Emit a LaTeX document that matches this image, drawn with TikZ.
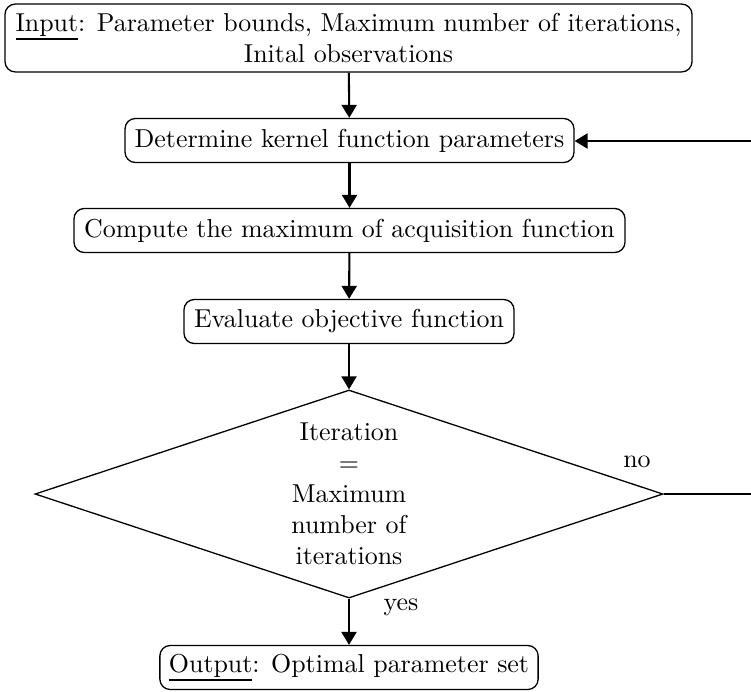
\documentclass[tikz,border=0pt]{standalone}
\usetikzlibrary{shapes.geometric,arrows.meta}
\newcommand\thickul[1]{\setbox0\hbox{#1}\rlap{\rule[-3.2pt]{\wd0}{0.75pt}}\box0}
\begin{document}
\begin{tikzpicture}[x=0.386pt,y=-0.386pt,
  procbox/.style={draw,line width=0.5pt,rounded corners=4pt,inner xsep=3.5pt,inner ysep=0pt,minimum height=17pt,align=center},
  decbox/.style={draw,line width=0.5pt,shape=diamond,shape aspect=3,inner sep=0pt,minimum width=242.4pt,minimum height=80.3pt,align=center},
  flow/.style={line width=0.8pt,-{Triangle[length=5pt,width=5.8pt]}},
  lbl/.style={inner sep=0pt}]
\useasboundingbox (0,0) rectangle (751,691);
\clip (0,0) rectangle (751,691);
\node[procbox,minimum width=265.2pt,minimum height=26.2pt] (in) at (348.5,38) {\thickul{Input}: Parameter bounds, Maximum number of iterations,\\Inital observations};
\node[procbox,minimum width=173.3pt] (kern) at (349.5,140.5) {Determine kernel function parameters};
\node[procbox,minimum width=212.7pt] (acq) at (349.5,230.5) {Compute the maximum of acquisition function};
\node[procbox,minimum width=127.4pt] (obj) at (349,321.5) {Evaluate objective function};
\node[decbox] (dec) at (349,494) {Iteration\\=\\Maximum\\number of\\iterations};
\node[procbox,minimum width=145.9pt] (out) at (349,667.5) {\thickul{Output}: Optimal parameter set};
\coordinate (fbA) at (800,494);
\coordinate (fbB) at (800,141);
\draw[flow] (in) -- (kern);
\draw[flow] (kern) -- (acq);
\draw[flow] (acq) -- (obj);
\draw[flow] (obj) -- (dec);
\draw[flow] (dec) -- (out);
\draw[line width=0.5pt] (dec.east) -- (fbA);
\draw[flow] (fbA) -- (fbB) -- (kern.east |- fbB);
\node[lbl] (no) at (637,462) {no};
\node[lbl] (yes) at (401,607) {yes};
\end{tikzpicture}
\end{document}
